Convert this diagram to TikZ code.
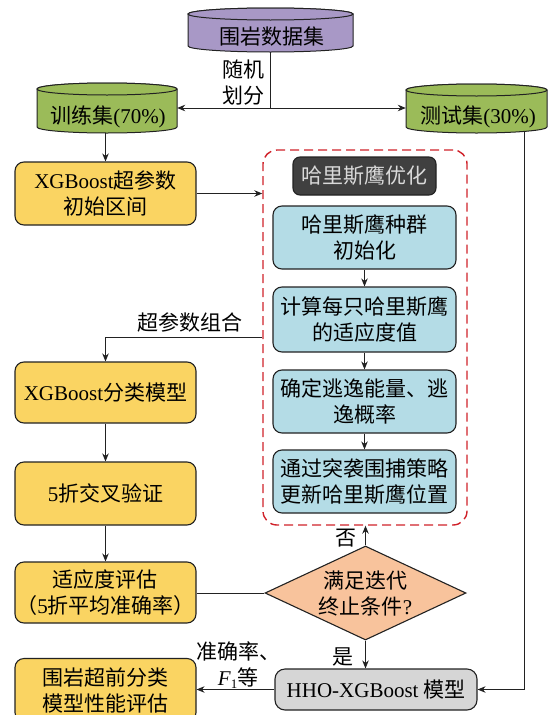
\documentclass[tikz,border=0pt]{standalone}
\usepackage{fontspec}
\setmainfont{Liberation Serif}
\newfontfamily\cjk{Noto Sans CJK SC}
\newfontfamily\lat{Liberation Serif}
\usetikzlibrary{arrows.meta,shapes.geometric}
\definecolor{cyel}{HTML}{FAD462}
\definecolor{cgrn}{HTML}{9BBB59}
\definecolor{cpur}{HTML}{A898C6}
\definecolor{cblu}{HTML}{B4DCE6}
\definecolor{cora}{HTML}{F8C39C}
\definecolor{cdrk}{HTML}{404040}
\definecolor{cgry}{HTML}{D6D6D6}
\definecolor{cred}{HTML}{D0222A}
\definecolor{cedge}{HTML}{222222}
\newcommand\drum[5]{%
  \path[draw=cedge, line width=1pt, fill=#5] (#1,#3+6) -- (#1,#4-6)
    arc[start angle=180, end angle=0, x radius={(#2-#1)/2}, y radius=6]
    -- (#2,#3+6)
    arc[start angle=0, end angle=-180, x radius={(#2-#1)/2}, y radius=6] -- cycle;
  \path[draw=cedge, line width=1pt, fill=#5] ({(#1+#2)/2},#3+6) ellipse[x radius={(#2-#1)/2}, y radius=6];
}
\begin{document}
\begin{tikzpicture}[x=1pt,y=-1pt,
  every node/.style={font=\fontsize{21}{26}\selectfont\cjk, align=center, inner sep=0pt},
  rbox/.style={draw=cedge, line width=1.1pt, rounded corners=9pt, minimum width=181pt, minimum height=63pt},
  ybox/.style={rbox, fill=cyel},
  bbox/.style={rbox, fill=cblu, minimum width=183pt},
  arr/.style={draw=cedge, line width=0.9pt, -{Stealth[length=8pt,width=6.5pt]}},
  ln/.style={draw=cedge, line width=0.9pt},
  lbl/.style={font=\fontsize{21}{26}\selectfont\cjk},
]
\path[use as bounding box] (0,0) rectangle (553,715);
\clip (0,0) rectangle (553,715);

% cylinders
\drum{188}{353}{8}{52}{cpur}
\drum{37}{177}{83}{133}{cgrn}
\drum{406}{547}{84}{133}{cgrn}
\node[minimum width=165pt, minimum height=44pt] (data) at (270.5,30) {};
\node (datat) at (272,37) {围岩数据集};
\node[minimum width=140pt, minimum height=50pt] (train) at (107,108) {};
\node (traint) at (108,117) {训练集{\lat (70\%)}};
\node[minimum width=141pt, minimum height=49pt] (test) at (476.5,108.5) {};
\node (testt) at (478,117) {测试集{\lat (30\%)}};

\coordinate (split) at (data.south |- 0,108);
\draw[ln] (data.south) -- (split);
\draw[arr] (split) -- (split -| train.east);
\draw[arr] (split) -- (split -| test.west);
\node[lbl] (rnd) at (243,83) {随机\\划分};

% left column
\node[ybox] (init) at (105.5,193.5) {{\lat XGBoost}超参数\\初始区间};
\node[ybox, minimum height=61pt] (xgbm) at (105.5,392.5) {{\lat XGBoost}分类模型};
\node[ybox] (cv) at (105.5,493.5) {{\lat 5}折交叉验证};
\node[ybox, minimum height=61pt] (fit) at (105.5,592.5) {适应度评估\\（{\lat 5}折平均准确率）};
\node[ybox] (perf) at (105.5,690) {围岩超前分类\\模型性能评估};

% HHO frame
\node[draw=cred, dash pattern=on 9pt off 5pt, line width=1.4pt, rounded corners=14pt,
      minimum width=204pt, minimum height=375pt] (frame) at (365,337.5) {};
\node[draw=cedge, line width=1.1pt, fill=cdrk, text=white!85!black, rounded corners=7pt,
      minimum width=143pt, minimum height=38pt] (ttl) at (364.5,176) {哈里斯鹰优化};
\node[bbox] (b1) at (364.5,237.5) {哈里斯鹰种群\\初始化};
\node[bbox, minimum height=65pt] (b2) at (364.5,319.5) {计算每只哈里斯鹰\\的适应度值};
\node[bbox] (b3) at (364.5,401.5) {确定逃逸能量、逃\\逸概率};
\node[bbox] (b4) at (364.5,481.5) {通过突袭围捕策略\\更新哈里斯鹰位置};
\draw[arr] (b1.south) -- (b2.north);
\draw[arr] (b2.south) -- (b3.north);
\draw[arr] (b3.south) -- (b4.north);

% decision
\node[diamond, aspect=2.14, draw=cedge, line width=1.1pt, fill=cora,
      minimum width=201pt, minimum height=94pt] (dec) at (365.5,593) {};
\node (dect) at (365.5,593.5) {满足迭代\\终止条件{\lat ?}};

% HHO-XGBoost model
\node[draw=cedge, line width=1.1pt, fill=cgry, rounded corners=10pt,
      minimum width=202pt, minimum height=41pt] (hho) at (376,689.5) {{\lat HHO-XGBoost} 模型};

% connectors
\draw[arr] (init.north |- train.south) -- (init.north);
\draw[arr] (init.east) -- (init.east -| frame.west);
\draw[arr] (frame.west) -| (xgbm.north);
\node[lbl] (hpc) at (190,322) {超参数组合};
\draw[arr] (xgbm.south) -- (cv.north);
\draw[arr] (cv.south) -- (fit.north);
\draw[ln] (dec.west) -- (dec.west -| fit.east);
\draw[arr] (dec.north) -- (dec.north |- frame.south);
\node[lbl] (no) at (346,538) {否};
\draw[arr] (dec.south) -- (dec.south |- hho.north);
\node[lbl] (yes) at (343,657) {是};
\draw[arr] ([xshift=-23pt,yshift=2pt]test.south east) |- (hho.east);
\draw[arr] (hho.west) -- (hho.west -| perf.east);
\node[lbl] (acc) at (238,665) {准确率、\\{\lat\textit{F}\raisebox{-3pt}{\fontsize{13}{13}\selectfont 1}}等};
\end{tikzpicture}
\end{document}
